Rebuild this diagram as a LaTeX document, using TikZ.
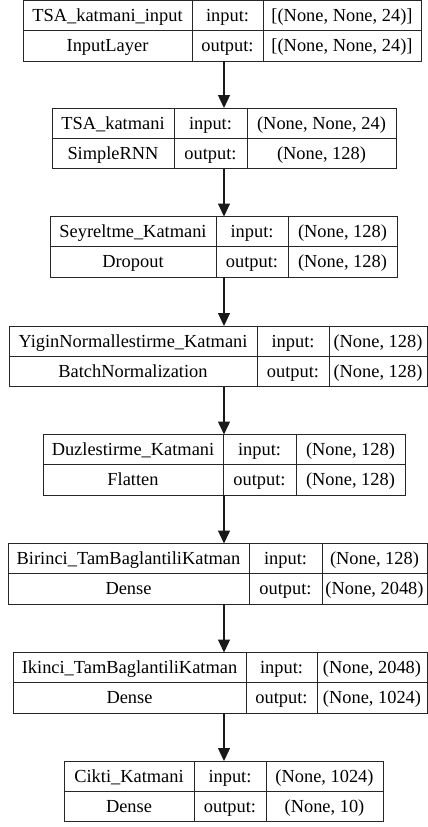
\documentclass[tikz,border=0pt]{standalone}
\usepackage{fontspec}
\setmainfont{Liberation Serif}
\usetikzlibrary{arrows.meta}
\tikzset{
  boxline/.style={draw=black!85, line width=1pt},
  cell/.style={inner sep=0pt, anchor=base, font=\fontsize{18.4}{22}\selectfont},
  arr/.style={-{Triangle[length=13pt,width=12pt]}, line width=1.3pt, draw=black!90, fill=black!90},
}
\newcommand\layergeom[6]{\def\lyrN{#1}\def\lyrY{#2}\def\lyrA{#3}\def\lyrB{#4}\def\lyrC{#5}\def\lyrD{#6}}
\newcommand\layertext[4]{%
  \pgfmathsetmacro\lyrE{\lyrY+30}%
  \pgfmathsetmacro\lyrF{\lyrY+60.5}%
  \pgfmathsetmacro\lyrW{\lyrD-\lyrA}%
  \node[boxline, inner sep=0pt, outer sep=0pt, anchor=north west, minimum width=\lyrW pt, minimum height=60.5pt] (\lyrN) at (\lyrA,\lyrY) {};
  \draw[boxline] (\lyrA,\lyrE) -- (\lyrD,\lyrE);
  \draw[boxline] (\lyrB,\lyrY) -- (\lyrB,\lyrF);
  \draw[boxline] (\lyrC,\lyrY) -- (\lyrC,\lyrF);
  \node[cell] (\lyrN-title) at ({(\lyrA+\lyrB)/2},{\lyrY+21}) {#1};
  \node[cell] (\lyrN-type) at ({(\lyrA+\lyrB)/2},{\lyrY+51}) {#2};
  \node[cell] (\lyrN-inl) at ({(\lyrB+\lyrC)/2},{\lyrY+21}) {input:};
  \node[cell] (\lyrN-outl) at ({(\lyrB+\lyrC)/2},{\lyrY+51}) {output:};
  \node[cell] (\lyrN-in) at ({(\lyrC+\lyrD)/2},{\lyrY+21}) {#3};
  \node[cell] (\lyrN-out) at ({(\lyrC+\lyrD)/2},{\lyrY+51}) {#4};
}
\begin{document}
\begin{tikzpicture}[x=1pt,y=-1pt]
\fill[white] (0,0) rectangle (428,827);
\useasboundingbox (0,0) rectangle (428,827);
\coordinate (ax) at (224,0);

\layergeom{L1}{0.5}{23}{192}{263}{421}
\layertext{TSA\_katmani\_input}{InputLayer}{[(None, None, 24)]}{[(None, None, 24)]}

\layergeom{L2}{108}{52}{174}{247}{396}
\layertext{TSA\_katmani}{SimpleRNN}{(None, None, 24)}{(None, 128)}

\layergeom{L3}{216.5}{50}{216}{288}{397}
\layertext{Seyreltme\_Katmani}{Dropout}{(None, 128)}{(None, 128)}

\layergeom{L4}{326}{9}{257}{329}{427}
\layertext{YiginNormallestirme\_Katmani}{BatchNormalization}{(None, 128)}{(None, 128)}

\layergeom{L5}{434.5}{43}{223}{296}{405}
\layertext{Duzlestirme\_Katmani}{Flatten}{(None, 128)}{(None, 128)}

\layergeom{L6}{543.5}{8}{249}{322}{427}
\layertext{Birinci\_TamBaglantiliKatman}{Dense}{(None, 128)}{(None, 2048)}

\layergeom{L7}{652.5}{13}{246}{317}{427}
\layertext{Ikinci\_TamBaglantiliKatman}{Dense}{(None, 2048)}{(None, 1024)}

\layergeom{L8}{761}{64}{194}{266}{383}
\layertext{Cikti\_Katmani}{Dense}{(None, 1024)}{(None, 10)}

\foreach \a/\b in {L1/L2,L2/L3,L3/L4,L4/L5,L5/L6,L6/L7,L7/L8}
  \draw[arr] (\a.south -| ax) -- (\b.north -| ax);
\end{tikzpicture}
\end{document}
